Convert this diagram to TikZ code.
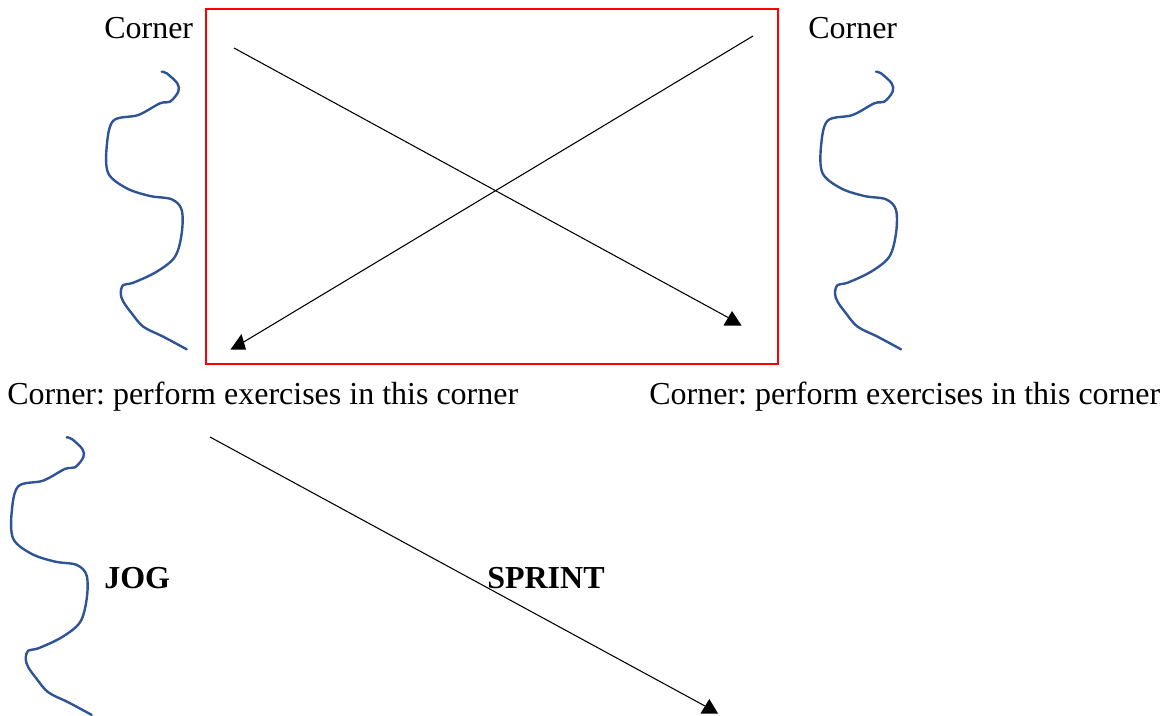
\documentclass[tikz,border=0pt]{standalone}
\usepackage{fontspec}
\setmainfont{Liberation Serif}
\definecolor{squigblue}{HTML}{2F5496}
\frenchspacing
\begin{document}
\begin{tikzpicture}[x=0.75pt,y=-0.75pt,
  lbl/.style={anchor=base west,inner sep=0pt,font=\fontsize{24}{28}\selectfont},
  blbl/.style={lbl,font=\fontsize{24}{28}\selectfont\bfseries},
  squigline/.style={draw=squigblue,line width=1.8pt,line cap=round,line join=round},
  conn/.style={draw=black,line width=0.8pt},
  tri/.style={fill=black},
  field/.style={draw=red,line width=1.6pt,inner sep=0pt,minimum width=429pt,minimum height=266.25pt},
  squig/.pic={\draw[squigline] plot[smooth,tension=0.55] coordinates{(0,0) (5,1.6) (15.6,11.6) (16.6,20) (8.3,30) (-1.7,31.6) (-23.4,43.3) (-48.4,49) (-55,75) (-53.4,101.6) (-35,116.6) (-11.7,124.3) (10,127.6) (20,138.3) (20,161.6) (13.3,185) (-5,200) (-28.4,211) (-38.4,213.3) (-41,221.6) (-38.4,230) (-30,241.6) (-18.4,255) (1.6,265) (25,277.6)};}
]
\useasboundingbox (0,0) rectangle (1171,715);
% red box
\node[field] (box) at (492,186.5) {};
% labels
\node[lbl] (c1) at (104,38.3) {Corner};
\node[lbl] (c2) at (808,38.3) {Corner};
\node[lbl] (c3) at (7,404.3) {Corner: perform exercises in this corner};
\node[lbl] (c4) at (649,404.3) {Corner: perform exercises in this corner};
\node[blbl] (jog) at (104,588) {JOG};
\node[blbl] (sprint) at (487,588) {SPRINT};
% squiggles
\pic at (161.7,71.7) {squig};
\pic at (876,71.7) {squig};
\pic at (66.7,437.3) {squig};
% arrow ends
\coordinate (s1) at (234,48);
\coordinate (e1) at (729,318);
\coordinate (s2) at (753,36);
\coordinate (e2) at (242,343);
\coordinate (s3) at (210,437);
\coordinate (e3) at (705,706);
\draw[conn] (s1) -- (e1);
\draw[conn] (s2) -- (e2);
\draw[conn] (s3) -- (e3);
% triangle heads
\fill[tri] (732,311) -- (741.5,325.5) -- (723.5,325.5) -- cycle;
\fill[tri] (241.5,334) -- (246,349.5) -- (230.5,349.5) -- cycle;
\fill[tri] (709.3,699) -- (718,713.5) -- (700.5,713.5) -- cycle;
\end{tikzpicture}
\end{document}
